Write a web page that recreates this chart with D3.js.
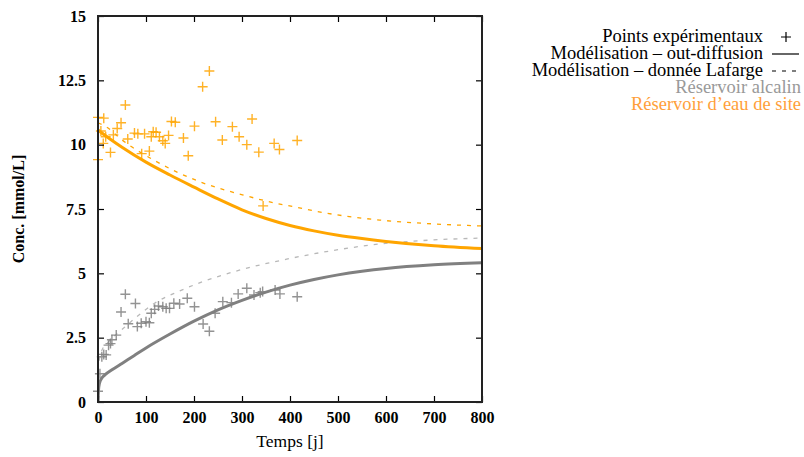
<!DOCTYPE html>
<html><head><meta charset="utf-8">
<script src="https://cdn.jsdelivr.net/npm/d3@7"></script>
<style>
body{margin:0;background:#fff}svg{display:block}
svg text{font-family:"Liberation Serif","Times New Roman","DejaVu Serif",serif !important;}
</style>
</head><body>
<svg id="c" width="804" height="457"></svg>
<script>
// ---- data ----
const xTicks = [0,100,200,300,400,500,600,700,800];
const yTicks = [0,2.5,5,7.5,10,12.5,15];
const yTickLabels = ["0","2.5","5","7.5","10","12.5","15"];

const siteExp = [[0,11.06],[12,11.03],[6,10.53],[16,10.31],[11,10.05],[0,9.42],[26,9.70],[32,10.38],[40,10.63],[48,10.85],[57,11.54],[62,10.22],[76,10.45],[83,10.42],[91,9.65],[97,10.42],[107,9.75],[111,10.31],[115,10.50],[121,10.48],[128,10.31],[135,10.15],[140,10.05],[147,10.36],[153,10.90],[161,10.87],[178,10.26],[188,9.57],[201,10.72],[218,12.25],[232,12.86],[245,10.89],[259,10.18],[280,10.70],[294,10.31],[310,10.00],[321,11.00],[335,9.71],[344,7.62],[367,10.05],[378,9.81],[415,10.16]];
const alcExp = [[0,0.42],[4,1.10],[8,1.76],[12,1.85],[17,1.83],[22,2.21],[26,2.27],[29,2.42],[38,2.60],[48,3.50],[57,4.19],[63,3.04],[78,3.83],[82,2.93],[90,3.06],[100,3.12],[107,3.08],[111,3.45],[118,3.60],[126,3.73],[135,3.70],[142,3.64],[149,3.64],[158,3.84],[170,3.81],[186,4.03],[201,3.70],[219,3.03],[232,2.75],[244,3.45],[260,3.90],[278,3.86],[292,4.20],[310,4.42],[325,4.16],[338,4.25],[343,4.29],[369,4.35],[379,4.20],[415,4.09]];

const siteModel = [[0,10.57],[25,10.22],[50,9.90],[100,9.32],[150,8.82],[200,8.35],[250,7.89],[300,7.47],[350,7.13],[400,6.86],[450,6.65],[500,6.48],[550,6.35],[600,6.24],[700,6.07],[800,5.96]];
const siteLafarge = [[0,10.85],[18,10.68],[49,10.2],[122,9.34],[212,8.56],[303,8.04],[379,7.69],[407,7.59],[469,7.36],[587,7.07],[700,6.92],[800,6.84]];
const alcModel = [[0,0],[1,0.45],[3,0.72],[8,0.93],[15,1.06],[30,1.26],[50,1.5],[75,1.8],[100,2.1],[150,2.64],[200,3.14],[250,3.58],[300,3.95],[350,4.27],[400,4.54],[450,4.76],[500,4.94],[550,5.08],[600,5.19],[700,5.33],[800,5.41]];
const alcLafarge = [[2,1.6],[7,1.96],[20,2.3],[49,2.8],[80,3.3],[118,3.84],[167,4.29],[219,4.68],[300,5.15],[393,5.55],[487,5.88],[587,6.14],[700,6.3],[800,6.37]];

const legendLabels = ["Points expérimentaux","Modélisation – out-diffusion","Modélisation – donnée Lafarge","Réservoir alcalin","Réservoir d’eau de site"];

// ---- style ----
const ORANGE = "#ffa500", GREY = "#808080", GREY_D = "#b8b8b8", ORANGE_TXT = "#ff9f3a", GREY_TXT = "#999";

const svg = d3.select("#c");
const m = {l:98, r:482, t:16, b:402};
const x = d3.scaleLinear().domain([0,800]).range([m.l,m.r]);
const y = d3.scaleLinear().domain([0,15]).range([m.b,m.t]);

svg.append("defs").append("clipPath").attr("id","clip")
  .append("rect").attr("x",m.l).attr("y",m.t).attr("width",m.r-m.l).attr("height",m.b-m.t);

const line = d3.line().x(d=>x(d[0])).y(d=>y(d[1])).curve(d3.curveMonotoneX);
const plot = svg.append("g").attr("clip-path","url(#clip)");

function plus(g, data, color){
  g.selectAll(null).data(data).enter().append("path")
    .attr("d", d=>`M${x(d[0])-5},${y(d[1])}h10M${x(d[0])},${y(d[1])-5}v10`)
    .attr("stroke", color).attr("stroke-width",1.4).attr("fill","none").attr("opacity",0.85);
}
const pg = svg.append("g");
plus(pg, alcExp, GREY);
plus(pg, siteExp, ORANGE);

plot.append("path").datum(alcLafarge).attr("d",line).attr("fill","none").attr("stroke",GREY_D).attr("stroke-width",1.3).attr("stroke-dasharray","4,6");
plot.append("path").datum(siteLafarge).attr("d",line).attr("fill","none").attr("stroke",ORANGE).attr("stroke-width",1.3).attr("stroke-dasharray","4,6");
plot.append("path").datum(alcModel).attr("d",line).attr("fill","none").attr("stroke",GREY).attr("stroke-width",3);
plot.append("path").datum(siteModel).attr("d",line).attr("fill","none").attr("stroke",ORANGE).attr("stroke-width",3);

// axes (ticks inward, mirrored)
const tickFont = g => g.selectAll("text").attr("font-weight","bold").attr("font-size","16px").attr("fill","#000");
const ax = svg.append("g").attr("transform",`translate(0,${m.b})`)
  .call(d3.axisBottom(x).tickValues(xTicks).tickSize(-6).tickPadding(10).tickFormat(d3.format("d")));
ax.call(tickFont); ax.select(".domain").remove();
const axT = svg.append("g").attr("transform",`translate(0,${m.t})`)
  .call(d3.axisTop(x).tickValues(xTicks).tickSize(-6).tickFormat(""));
axT.select(".domain").remove();
const ay = svg.append("g").attr("transform",`translate(${m.l},0)`)
  .call(d3.axisLeft(y).tickValues(yTicks).tickSize(-6).tickPadding(12).tickFormat((d,i)=>yTickLabels[i]));
ay.call(tickFont); ay.select(".domain").remove();
const ayR = svg.append("g").attr("transform",`translate(${m.r},0)`)
  .call(d3.axisRight(y).tickValues(yTicks).tickSize(-6).tickFormat(""));
ayR.select(".domain").remove();
svg.selectAll(".tick line").attr("stroke","#000").attr("stroke-width",1.2);

// frame
svg.append("rect").attr("x",m.l).attr("y",m.t).attr("width",m.r-m.l).attr("height",m.b-m.t)
  .attr("fill","none").attr("stroke","#222").attr("stroke-width",2);

// axis labels
svg.append("text").attr("x",290).attr("y",447).attr("text-anchor","middle")
  .attr("font-size","17.5px").text("Temps [j]");
svg.append("text").attr("transform","translate(24,209) rotate(-90)").attr("text-anchor","middle")
  .attr("font-weight","bold").attr("font-size","16px").text("Conc. [mmol/L]");

// legend
const lg = svg.append("g").attr("font-size","18.5px").attr("text-anchor","end");
const lx = 763, ly0 = 42, dy = 17;
legendLabels.forEach((t,i)=>{
  const col = i===3 ? GREY_TXT : (i===4 ? ORANGE_TXT : "#000");
  lg.append("text").attr("x", i>=3 ? 801 : lx).attr("y", ly0+i*dy).attr("fill",col).text(t);
});
lg.append("path").attr("d",`M781,${ly0-5}h10M786,${ly0-10}v10`).attr("stroke","#000").attr("stroke-width",1.2);
lg.append("line").attr("x1",772).attr("x2",799).attr("y1",ly0+dy-5).attr("y2",ly0+dy-5).attr("stroke","#000").attr("stroke-width",1.2);
lg.append("line").attr("x1",772).attr("x2",799).attr("y1",ly0+2*dy-5).attr("y2",ly0+2*dy-5).attr("stroke","#000").attr("stroke-width",1.2).attr("stroke-dasharray","4,6");
</script>
</body></html>
